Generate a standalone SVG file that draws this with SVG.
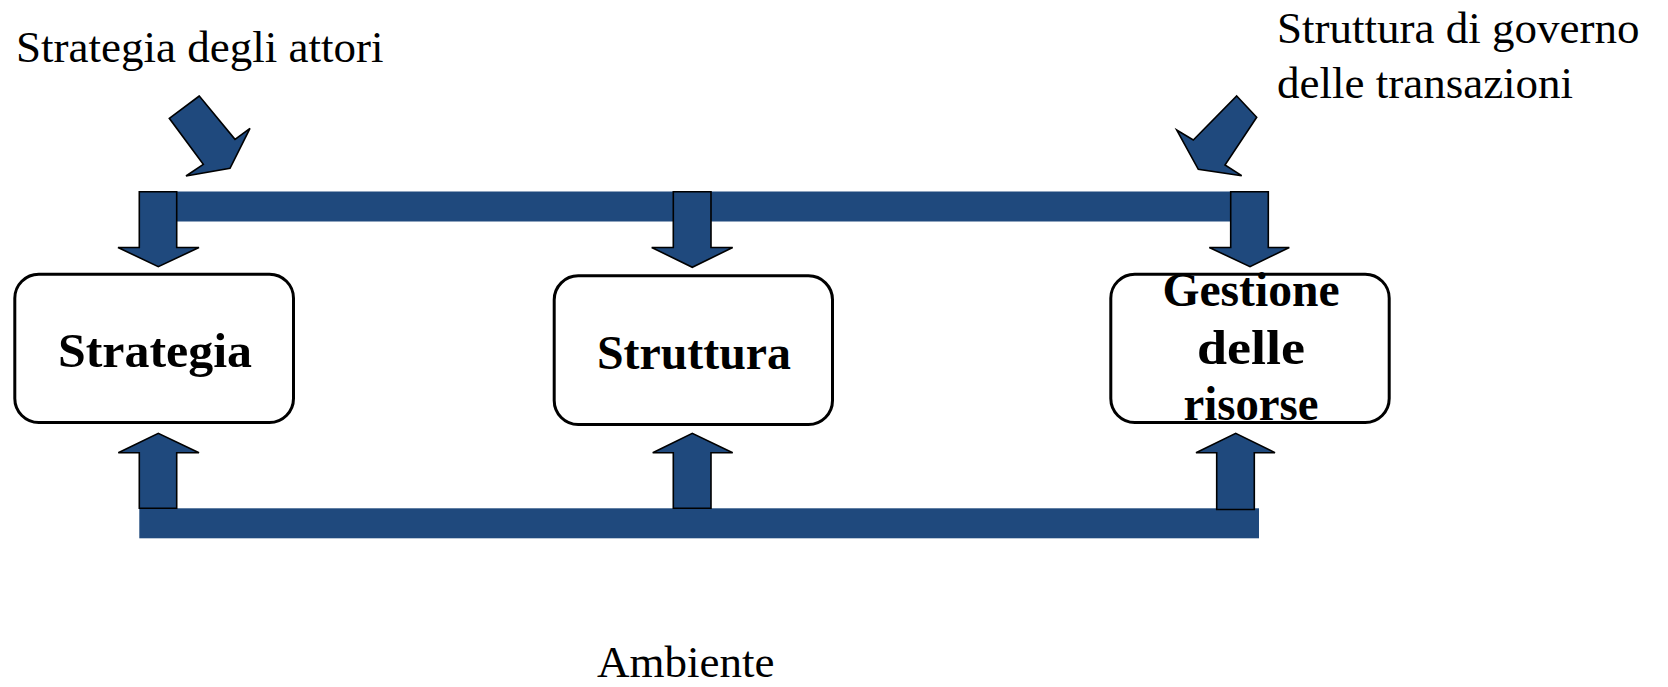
<svg xmlns="http://www.w3.org/2000/svg" width="1668" height="687" viewBox="0 0 1668 687">
<style>
.bar{fill:#1F497D}
.arr{fill:#1F497D;stroke:#000;stroke-width:1.6;stroke-linejoin:miter}
.box{fill:#fff;stroke:#000;stroke-width:3}
.lbl{font-family:"Liberation Serif",serif;font-size:45px;fill:#000}
.nt{font-family:"Liberation Serif",serif;font-size:48px;font-weight:bold;fill:#000;text-anchor:middle}
</style>
<rect width="1668" height="687" fill="#fff"/>
<g id="connectors">
<rect class="bar" x="150" y="191.5" width="1100" height="30"/>
<rect class="bar" x="139.3" y="508.3" width="1119.7" height="30"/>
<polygon class="arr" points="199.3,96 169.3,118.3 203.3,164.3 186,176 230,168.3 250,128.3 235,139.3"/>
<polygon class="arr" points="1236.7,96 1256.7,117.3 1225,165 1241.7,175.7 1198.3,169.3 1176.7,130 1193.3,140"/>
<polygon class="arr" points="139.3,191.7 176.7,191.7 176.7,247.5 199,247.5 158.3,266.7 118,247.5 139.3,247.5"/>
<polygon class="arr" points="673.3,191.7 711,191.7 711,247.5 732.7,247.5 692.3,267.3 651.7,247.5 673.3,247.5"/>
<polygon class="arr" points="1230.7,191.7 1268.3,191.7 1268.3,247.5 1289.3,247.5 1250,266.7 1209.3,247.5 1230.7,247.5"/>
<polygon class="arr" points="139.3,508.3 176.7,508.3 176.7,452.7 199,452.7 158.3,433.3 118.3,452.7 139.3,452.7"/>
<polygon class="arr" points="673.3,508.3 711,508.3 711,452.7 732.7,452.7 692.3,433.3 652.7,452.7 673.3,452.7"/>
<polygon class="arr" points="1216.7,509.5 1254.3,509.5 1254.3,452.7 1275,452.7 1235.7,433.3 1196,452.7 1216.7,452.7"/>
</g>
<g id="node-strategia">
<rect class="box" x="14.8" y="274.2" width="278.7" height="148.3" rx="24"/>
<text class="nt" x="155" y="367" textLength="194" lengthAdjust="spacingAndGlyphs">Strategia</text>
</g>
<g id="node-struttura">
<rect class="box" x="554.2" y="275.8" width="278.3" height="148.7" rx="24"/>
<text class="nt" x="694" y="369.3" textLength="194" lengthAdjust="spacingAndGlyphs">Struttura</text>
</g>
<g id="node-gestione">
<rect class="box" x="1110.8" y="274.2" width="278.4" height="148.3" rx="24"/>
<text class="nt" x="1251" y="306" textLength="177" lengthAdjust="spacingAndGlyphs">Gestione</text>
<text class="nt" x="1251" y="364" textLength="108" lengthAdjust="spacingAndGlyphs">delle</text>
<text class="nt" x="1251" y="420" textLength="135" lengthAdjust="spacingAndGlyphs">risorse</text>
</g>
<g id="label-attori">
<text class="lbl" x="16" y="62">Strategia degli attori</text>
</g>
<g id="label-governo">
<text class="lbl" x="1277" y="43">Struttura di governo</text>
<text class="lbl" x="1277" y="98">delle transazioni</text>
</g>
<g id="label-ambiente">
<text class="lbl" x="597" y="677">Ambiente</text>
</g>
</svg>
